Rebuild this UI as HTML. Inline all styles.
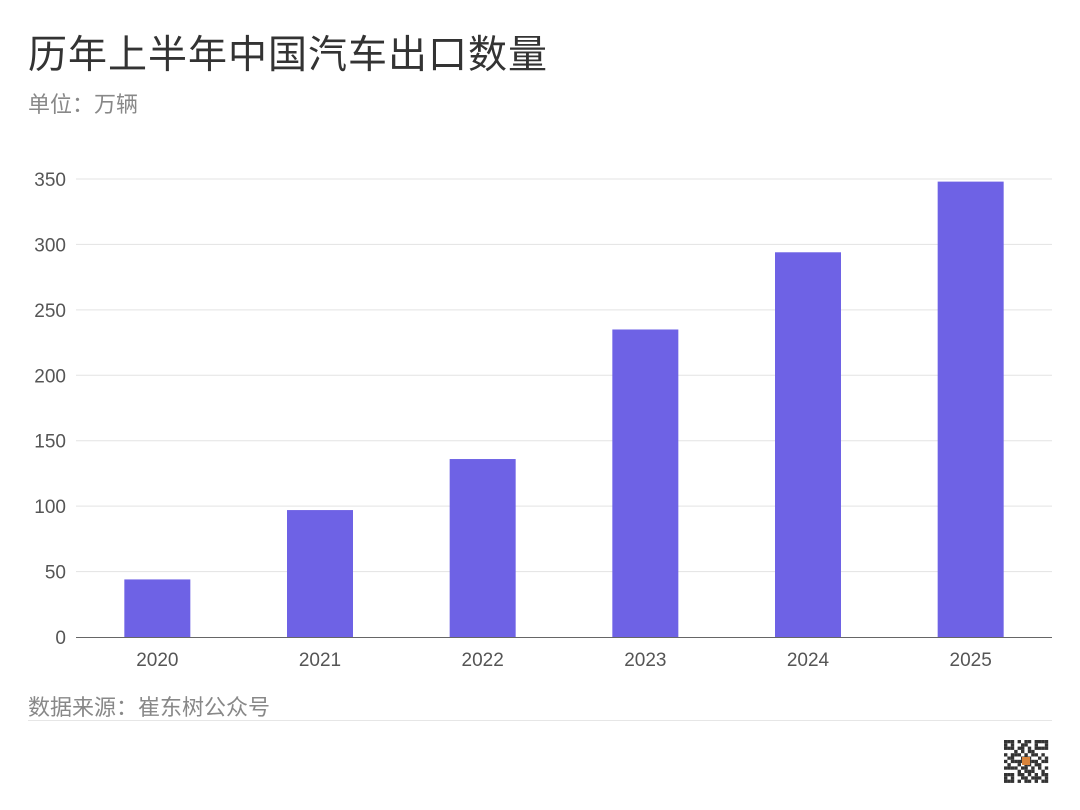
<!DOCTYPE html>
<html><head><meta charset="utf-8">
<style>
body{margin:0;background:#fff;width:1080px;height:810px;overflow:hidden;font-family:"Liberation Sans","Noto Sans CJK SC",sans-serif;}
#title{position:absolute;left:28px;top:24px;font-size:39px;color:#333;letter-spacing:1px;}
#sub{position:absolute;left:28px;top:87px;font-size:22px;color:#888;}
#src{position:absolute;left:28px;top:690px;font-size:22px;color:#888;}
#rule{position:absolute;left:28px;top:720px;width:1024px;height:1px;background:#e6e6e6;}
svg{position:absolute;left:0;top:0;}
</style></head><body>
<div id="title">历年上半年中国汽车出口数量</div>
<div id="sub">单位：万辆</div>
<svg id="chart" width="1080" height="810"></svg>
<div id="src">数据来源：崔东树公众号</div>
<div id="rule"></div>
<script>
const categories=["2020","2021","2022","2023","2024","2025"];
const values=[44,97,136,235,294,348];
const ticks=[0,50,100,150,200,250,300,350];
const NS="http://www.w3.org/2000/svg";
const svg=document.getElementById('chart');
const x0=76,x1=1052,y0=637,yMax=350,yTop=179;
const band=(x1-x0)/categories.length;
const yS=v=>y0-(v/yMax)*(y0-yTop);
const xC=i=>x0+band*(i+0.5);
function mk(t,a){const e=document.createElementNS(NS,t);for(const k in a)e.setAttribute(k,a[k]);svg.appendChild(e);return e;}
ticks.forEach(t=>{
  if(t>0){const g=mk('line',{x1:x0,x2:x1,y1:yS(t),y2:yS(t),stroke:'#e3e3e3','stroke-width':1});
  
  }
  const l=mk('text',{x:66,y:yS(t)+7,'text-anchor':'end','font-size':19,fill:'#555','font-family':'Liberation Sans, sans-serif'});
  l.textContent=t;
  
  
});
values.forEach((v,i)=>{
  const b=mk('rect',{x:xC(i)-33,y:yS(v),width:66,height:y0-yS(v),fill:'#6e62e5'});
  
  
  const l=mk('text',{x:xC(i),y:666,'text-anchor':'middle','font-size':19,fill:'#555','font-family':'Liberation Sans, sans-serif'});
  l.textContent=categories[i];
  
  
});
const ax=mk('line',{x1:x0,x2:x1,y1:y0+0.5,y2:y0+0.5,stroke:'#666','stroke-width':1});


const qr=document.createElementNS(NS,'g');


svg.appendChild(qr);
const pat="1110101101111,1010011001001,1110110101111,0001010110000,1011101011010,0110011100101,1011110111011,0100101101100,1111011010101,0000101110010,1110110101011,1010011011101,1110101101011".split(',');
pat.forEach((r,ry)=>[...r].forEach((c,cx)=>{if(c==='1'){const q=document.createElementNS(NS,'rect');q.setAttribute('x',1004+cx*3.4);q.setAttribute('y',740+ry*3.3);q.setAttribute('width',3.4);q.setAttribute('height',3.3);q.setAttribute('fill','#333');qr.appendChild(q);}}));
const o=document.createElementNS(NS,'rect');o.setAttribute('x',1022);o.setAttribute('y',757);o.setAttribute('width',8);o.setAttribute('height',8);o.setAttribute('fill','#d9843b');qr.appendChild(o);
</script>
</body></html>
